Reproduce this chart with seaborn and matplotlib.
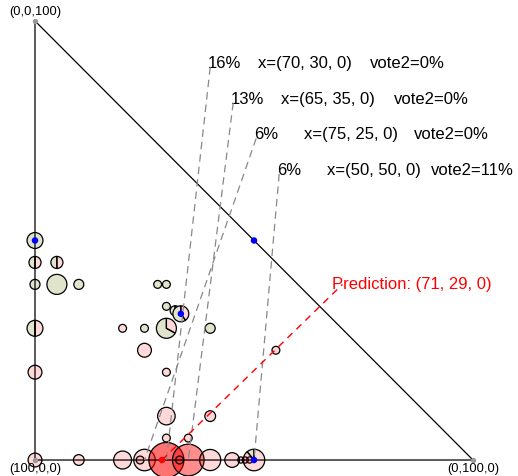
import numpy as np
import matplotlib
matplotlib.use("Agg")
import matplotlib.pyplot as plt
from matplotlib.patches import Wedge, Circle
import seaborn as sns

# second and third components of each observed point (first = 100 - b - c)
pt_b = [0, 0, 5, 0, 5, 10, 28, 30, 30, 32, 33.3, 0, 20, 25, 30, 40, 25, 30, 55, 0,
        30, 40, 30, 35, 0, 10, 20, 25, 24, 30, 35, 33, 40, 45, 47, 48, 49, 50]
pt_c = [50, 45, 45, 40, 40, 40, 40, 40, 35, 34, 33.3, 30, 30, 30, 30, 30, 25, 20, 25, 20,
        10, 10, 5, 5, 0, 0, 0, 0, 0, 0, 0, 0, 0, 0, 0, 0, 0, 0]
# weight in percent
pt_pct = [3.3, 1.9, 1.9, 1.3, 5.2, 1.3, 0.8, 0.8, 0.8, 1.3, 3.3, 3.3, 0.8, 0.8, 5.2, 1.3, 2.5, 0.8, 0.8, 2.5,
          4.0, 1.5, 0.8, 0.8, 2.5, 1.5, 4.2, 6.0, 0.8, 16.0, 13.0, 0.8, 5.8, 2.8, 0.5, 0.5, 0.5, 6.0]
# share of vote2
pt_vote2 = [1, 0.5, 0.5, 1, 1, 1, 1, 1, 1, 0.5, 0.6, 0.5, 0, 1, 0.67, 1, 0, 0, 0, 0,
            0, 0, 0, 0, 0, 0, 0, 0, 0, 0, 0, 0, 0, 0, 0, 0, 0, 0.11]

# blue reference points
blue_b = [0, 50, 33.3, 50]
blue_c = [50, 50, 33.3, 0]

# top labels
label_pct = [16, 13, 6, 6]
label_x = [(70, 30, 0), (65, 35, 0), (75, 25, 0), (50, 50, 0)]
label_vote2 = [0, 0, 0, 11]

pred = (71, 29, 0)

sns.set_style("white")
plt.rcParams['font.family'] = ['Liberation Sans', 'DejaVu Sans']
plt.rcParams['text.color'] = 'black'

fig = plt.figure(figsize=(5.18, 4.77), dpi=100)
ax = fig.add_axes([0, 0, 1, 1])
ax.set_xlim(-7.99, 110.27)
ax.set_ylim(-3.64, 105.0)
ax.axis('off')

green = '#e1e4cc'
for b, c, p, v in zip(pt_b, pt_c, pt_pct, pt_vote2):
    r = np.sqrt(p)
    alpha = 0.15 if p < 10 else p / 29
    pink = (1, 0, 0, alpha)
    if v >= 1:
        ax.add_patch(Circle((b, c), r, facecolor=green, edgecolor='black', lw=0.9, zorder=2))
    elif v <= 0:
        ax.add_patch(Circle((b, c), r, facecolor=pink, edgecolor='black', lw=0.9, zorder=2))
    else:
        ang = 90 + v * 360
        ax.add_patch(Wedge((b, c), r, 90, ang, facecolor=green, edgecolor='black', lw=0.9, zorder=2))
        ax.add_patch(Wedge((b, c), r, ang, 450, facecolor=pink, edgecolor='black', lw=0.9, zorder=2))

# triangle
ax.plot([0, 100, 0, 0], [0, 0, 100, 0], color='black', lw=0.9, zorder=5)
ax.scatter([0, 100, 0], [0, 0, 100], color='#999999', s=8, zorder=6)

ax.text(0, 102.3, "(0,0,100)", ha='center', va='center', fontsize=9.3)
ax.text(0, -1.9, "(100,0,0)", ha='center', va='center', fontsize=9.3)
ax.text(100, -1.9, "(0,100,0)", ha='center', va='center', fontsize=9.3)

# labels with leader lines
vote_dx = [37.0, 37.2, 36.5, 35.2]
for i, (p, x, v) in enumerate(zip(label_pct, label_x, label_vote2)):
    x0 = 39.5 + 5.25 * i
    y0 = 89.45 - 8.1 * i
    ax.plot([x0 + 0.5, x[1]], [y0, x[2]], color='#888888', lw=0.9,
            ls=(0, (6, 4)), zorder=6)
    ax.text(x0, y0, f"{p}%", fontsize=12, va='baseline')
    ax.text(x0 + 11.4, y0, f"x=({x[0]}, {x[1]}, {x[2]})", fontsize=12, va='baseline')
    ax.text(x0 + vote_dx[i], y0, f"vote2={v}%", fontsize=12, va='baseline')

# prediction
ax.plot([pred[1], 70.2], [pred[2], 40], color='red', lw=1, ls=(0, (5, 4)), zorder=6)
ax.text(67.8, 39.2, f"Prediction: ({pred[0]}, {pred[1]}, {pred[2]})", color='red',
        fontsize=12, va='baseline')

sns.scatterplot(x=blue_b, y=blue_c, color='blue', s=22, edgecolor='none', zorder=7, ax=ax)
sns.scatterplot(x=[pred[1]], y=[pred[2]], color='red', s=22, edgecolor='none', zorder=7, ax=ax)

fig.savefig("out.png", dpi=100)
